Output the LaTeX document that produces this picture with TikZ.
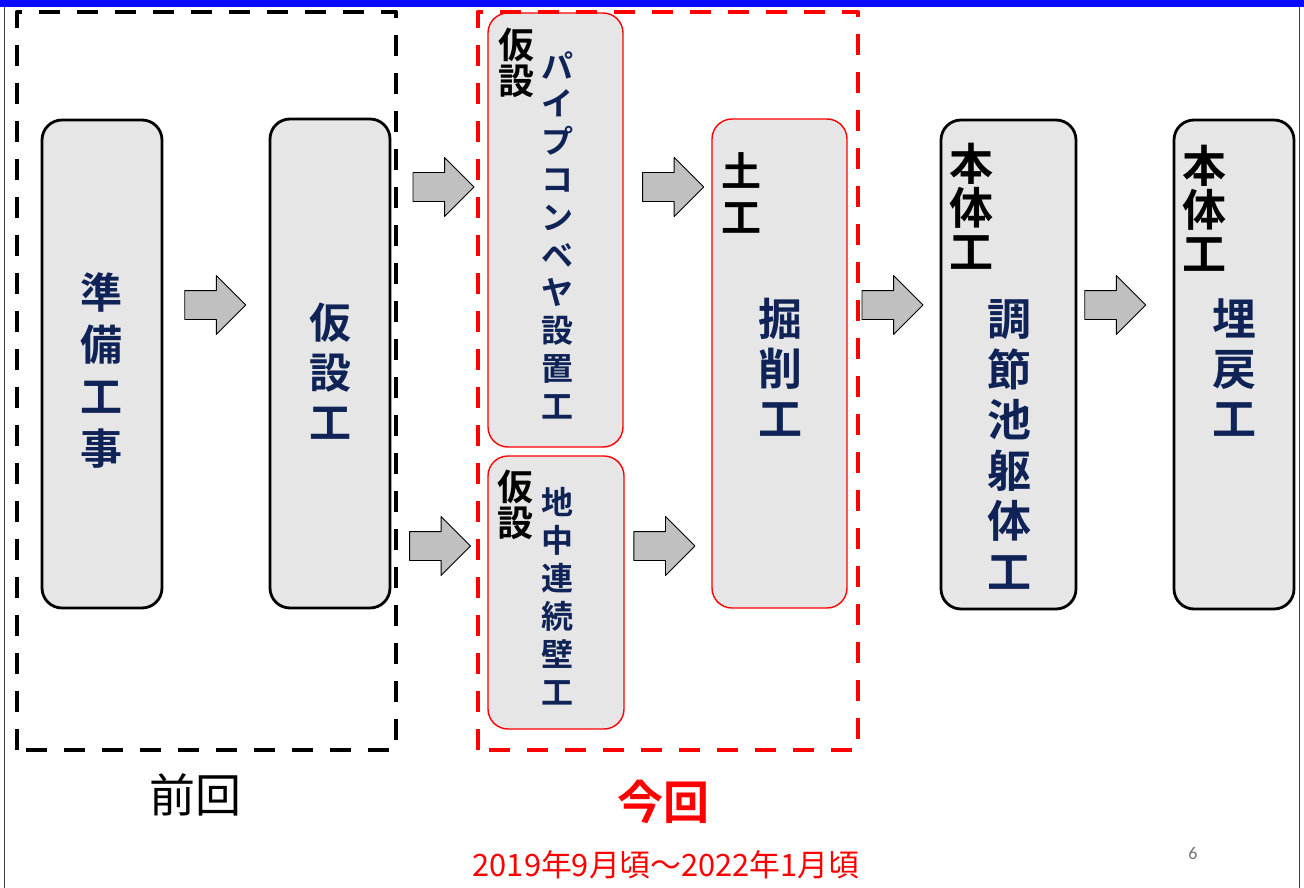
\documentclass[tikz,border=0pt]{standalone}
\usepackage{fontspec}
\setmainfont{Noto Sans CJK JP}[BoldFont={Noto Sans CJK JP Bold}]
\newfontfamily\pagefont{Carlito}
\usetikzlibrary{shapes.arrows}
\definecolor{boxgray}{HTML}{E6E6E6}
\definecolor{arrowgray}{HTML}{C0C0C0}
\definecolor{navy}{HTML}{0F2357}
\definecolor{bandblue}{HTML}{0A0AFF}
\begin{document}
\begin{tikzpicture}[x=1pt, y=-1pt, line join=round]
	\tikzset{
		stepbox/.style={draw=black, line width=2.8pt, fill=boxgray, rounded corners=20pt, inner sep=0pt},
		nowbox/.style={draw=red, line width=1.4pt, fill=boxgray, rounded corners=20pt, inner sep=0pt},
		vtext/.style={text=navy, align=center, inner sep=0pt},
		tagtext/.style={text=black, align=center, inner sep=0pt},
		flow/.style={single arrow, draw=black, line width=0.9pt, fill=arrowgray, minimum height=61pt, inner xsep=0pt, inner ysep=14pt, single arrow head extend=15pt, xshift=-6.5pt}
	}
	\useasboundingbox (0,0) rectangle (1304,888);
	% frame
	\fill[bandblue] (0,0) rectangle (1304,7);
	\draw[black!75, line width=1.5pt] (4.5,7)--(4.5,888);
	\draw[black!75, line width=1.5pt] (1299.5,7)--(1299.5,888);
	% rows of the arrows
	\coordinate (rowmid) at (0,305);
	\coordinate (rowtop) at (0,187);
	\coordinate (rowlow) at (0,546);
	% steps
	\node[stepbox, minimum width=120pt, minimum height=488pt] (junbi) at (102,364) {};
	\node[stepbox, minimum width=120pt, minimum height=489pt] (kasetsu) at (330,363.5) {};
	\node[nowbox, minimum width=135pt, minimum height=434pt] (pipe) at (555.5,230) {};
	\node[nowbox, minimum width=136pt, minimum height=273pt] (wall) at (556,592.5) {};
	\node[nowbox, minimum width=135pt, minimum height=489pt] (kussaku) at (779.5,363.5) {};
	\node[stepbox, minimum width=135pt, minimum height=489pt] (chousei) at (1008.5,364.5) {};
	\node[stepbox, minimum width=120pt, minimum height=489pt] (umemodoshi) at (1234,364.5) {};
	% texts of the steps
	\node[vtext, font=\fontsize{42}{52}\selectfont\bfseries] (junbi-t) at (101,370) {準\\備\\工\\事};
	\node[vtext, font=\fontsize{42}{50}\selectfont\bfseries] (kasetsu-t) at (330,371) {仮\\設\\工};
	\node[tagtext, font=\fontsize{36}{36}\selectfont\bfseries] (pipe-tag) at (516,63) {仮\\設};
	\node[vtext, font=\fontsize{32}{37.8}\selectfont\bfseries] (pipe-t) at (557,235) {パ\\イ\\プ\\コ\\ン\\ベ\\ヤ\\設\\置\\工};
	\node[tagtext, font=\fontsize{36}{36}\selectfont\bfseries] (wall-tag) at (515,505) {仮\\設};
	\node[vtext, font=\fontsize{32}{38}\selectfont\bfseries] (wall-t) at (557,596) {地\\中\\連\\続\\壁\\工};
	\node[tagtext, font=\fontsize{40}{46}\selectfont\bfseries] (kussaku-tag) at (741,193) {土\\工};
	\node[vtext, font=\fontsize{44}{50}\selectfont\bfseries] (kussaku-t) at (780,367.5) {掘\\削\\工};
	\node[tagtext, font=\fontsize{44}{44}\selectfont\bfseries] (chousei-tag) at (971,206.5) {本\\体\\工};
	\node[vtext, font=\fontsize{44}{50.6}\selectfont\bfseries] (chousei-t) at (1009,444.5) {調\\節\\池\\躯\\体\\工};
	\node[tagtext, font=\fontsize{44}{44}\selectfont\bfseries] (umemodoshi-tag) at (1204,208) {本\\体\\工};
	\node[vtext, font=\fontsize{44}{50}\selectfont\bfseries] (umemodoshi-t) at (1234,368) {埋\\戻\\工};
	% arrows
	\path (junbi.east|-rowmid) -- node[flow, pos=0.486] (a1) {} (kasetsu.west|-rowmid);
	\path (kasetsu.east|-rowtop) -- node[flow, pos=0.536] (a2) {} (pipe.west|-rowtop);
	\path (pipe.east|-rowtop) -- node[flow, pos=0.556] (a3) {} (kussaku.west|-rowtop);
	\path (kasetsu.east|-rowlow) -- node[flow, pos=0.5] (a4) {} (wall.west|-rowlow);
	\path (wall.east|-rowlow) -- node[flow, pos=0.45] (a5) {} (kussaku.west|-rowlow);
	\path (kussaku.east|-rowmid) -- node[flow, pos=0.48] (a6) {} (chousei.west|-rowmid);
	\path (chousei.east|-rowmid) -- node[flow, pos=0.39] (a7) {} (umemodoshi.west|-rowmid);
	% previous and present parts
	\draw[black, line width=4.8pt, dash pattern=on 21pt off 17pt] (17,750)--(17,12)--(396,12)--(396,750)--cycle;
	\draw[red, line width=4.8pt, dash pattern=on 21pt off 17pt] (478,750)--(478,12)--(858,12)--(858,750)--cycle;
	\node[font=\fontsize{46}{46}\selectfont] (zenkai) at (195,795) {前回};
	\node[text=red, font=\fontsize{46}{46}\selectfont\bfseries] (konkai) at (663,802) {今回};
	\node[text=red, font=\fontsize{30.8}{30.8}\selectfont] (kikan) at (666,865) {2019年9月頃～2022年1月頃};
	\node[text=black!55, font=\pagefont\fontsize{18}{18}\selectfont] (page) at (1193,853) {6};
\end{tikzpicture}
\end{document}
